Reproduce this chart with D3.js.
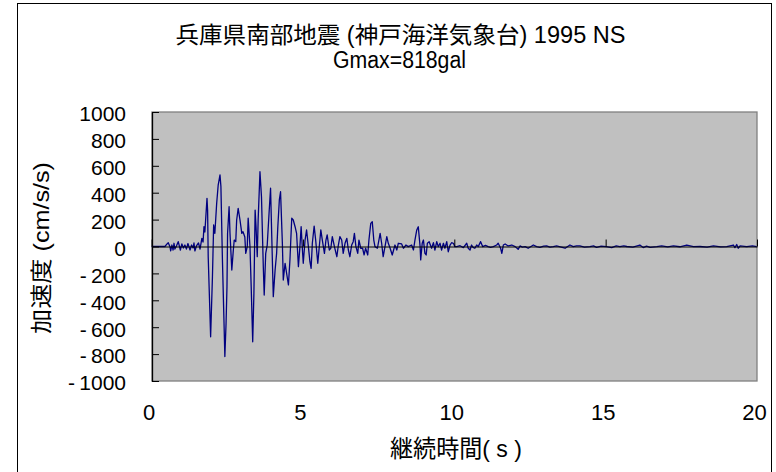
<!DOCTYPE html>
<html><head><meta charset="utf-8">
<script src="https://cdn.jsdelivr.net/npm/d3@7/dist/d3.min.js"></script>
<style>body{margin:0;background:#fff}svg{display:block}</style>
</head><body><svg id="chart" width="776" height="472"></svg>
<script>
// ---- data ----
const titleLines = ["兵庫県南部地震 (神戸海洋気象台) 1995 NS", "Gmax=818gal"];
const yAxisTitle = "加速度 (cm/s/s)";
const xAxisTitle = "継続時間( s )";
const xTickValues = [0, 5, 10, 15, 20];
const yTickValues = [-1000, -800, -600, -400, -200, 0, 200, 400, 600, 800, 1000];
const timeSec = [
  0.00,0.44,0.51,0.55,0.61,0.63,0.67,0.71,0.74,0.77,0.82,0.88,0.95,1.00,1.05,1.10,1.15,1.20,1.27,1.32,
  1.37,1.40,1.43,1.48,1.55,1.60,1.66,1.70,1.73,1.76,
  1.83,1.85,1.87,1.95,2.01,2.05,2.09,2.15,2.20,2.26,2.29,2.34,2.39,2.42,2.46,2.49,2.51,2.56,2.59,2.65,
  2.70,2.73,2.78,2.81,2.86,2.92,2.98,3.02,3.08,3.11,3.16,3.19,3.25,3.29,3.34,3.38,3.42,3.45,3.49,3.52,
  3.58,3.63,3.69,3.72,3.77,3.82,3.88,3.93,3.97,4.02,4.08,4.13,4.17,4.22,4.26,4.32,4.35,4.41,4.46,4.52,
  4.57,4.63,4.68,
  4.74,4.79,4.85,4.90,4.94,4.98,5.01,5.07,5.12,5.18,5.23,5.27,5.31,5.37,5.42,5.49,5.53,5.59,5.64,5.71,
  5.76,5.80,5.87,5.92,5.97,6.04,6.12,6.17,6.22,6.28,6.33,6.39,6.45,6.50,6.55,6.61,6.66,6.70,6.75,6.81,
  6.85,6.91,6.97,7.02,7.07,7.14,7.18,7.24,7.29,7.34,7.38,
  7.46,7.55,7.60,7.65,7.71,7.77,7.82,7.88,7.95,8.04,8.10,8.15,8.26,8.32,8.40,8.48,8.59,8.65,8.70,8.76,
  8.81,8.87,8.89,8.94,8.98,9.03,9.07,9.11,9.17,9.25,9.31,9.36,9.42,9.47,9.53,9.58,9.64,9.69,9.75,9.80,
  9.86,9.91,9.97,10.02,
  10.08,10.19,10.30,10.41,10.46,10.52,10.57,10.62,10.68,10.74,10.79,10.87,10.94,11.03,11.12,11.20,11.29,11.40,11.45,11.53,
  11.57,11.62,11.68,11.78,11.90,12.01,12.11,12.17,12.25,12.34,12.44,12.56,12.61,12.72,12.83,12.95,13.05,13.16,13.27,13.38,
  13.50,13.66,13.82,13.93,14.04,14.15,14.30,14.48,14.60,14.70,14.85,15.03,15.20,15.35,15.47,15.60,15.70,15.90,16.13,16.24,
  16.35,16.47,16.69,16.85,17.05,17.24,17.45,17.68,17.90,18.12,18.35,18.56,18.80,19.00,19.22,19.27,19.33,19.38,19.44,19.66,
  19.85,19.99
];
const accel = [
  0,0,19,28,-4,-33,11,-26,24,-19,4,36,-26,19,-11,11,-19,22,-26,11,
  -11,26,-33,4,26,-19,61,33,147,108,
  358,271,-76,-671,-225,160,98,321,457,532,445,-100,-546,-818,-571,-299,98,296,98,-175,
  -26,48,36,197,284,197,98,110,71,-51,-1,210,-1,-299,-708,-348,271,147,-76,197,
  556,370,-150,-361,-51,11,247,433,73,-373,-175,-51,147,346,407,24,-249,-125,-199,-286,
  -100,210,197,
  147,98,-150,-1,147,-13,-125,48,123,-1,-113,-162,24,152,48,-125,-26,123,48,-51,
  48,86,-26,-13,73,-1,-76,11,73,48,-51,24,61,-26,-76,11,36,98,-1,-51,
  48,-13,-13,-63,-13,-63,48,172,184,48,-1,
  -13,98,24,-76,-1,73,24,-13,-63,11,-26,24,19,-13,11,-1,11,-26,48,123,
  147,-1,-100,24,48,-51,-63,24,36,-13,28,-26,36,-1,24,-26,24,-13,36,-39,
  11,28,24,-1,
  -1,6,-8,24,-13,-26,11,-6,-13,11,-1,36,-1,8,-1,-6,-1,11,24,-13,
  -51,11,19,4,11,-1,-21,4,-4,-1,-13,4,11,-1,-6,3,4,-4,-1,4,
  -3,-13,11,-1,5,4,-4,-1,4,-6,3,-1,-8,4,-1,5,0,-4,11,-8,
  3,-6,-1,5,-3,4,-2,11,-1,0,-4,4,-3,-1,11,-8,15,-13,4,-1,
  5,-1
];

// ---- chart ----
const svg = d3.select("#chart");
const FONT = "'Liberation Sans', Arial, 'Noto Sans CJK JP', sans-serif";
const plot = {left: 152, right: 757, top: 112, bottom: 381};
const x = d3.scaleLinear().domain([0, 20]).range([151.6, 757]);
const y = d3.scaleLinear().domain([-1000, 1000]).range([plot.bottom, plot.top]);

// outer frame
svg.append("rect").attr("x", 17.5).attr("y", 3.5).attr("width", 754).attr("height", 490)
  .attr("fill", "#fff").attr("stroke", "#000").attr("stroke-width", 1);

// plot area
svg.append("rect").attr("x", plot.left).attr("y", plot.top)
  .attr("width", plot.right - plot.left).attr("height", plot.bottom - plot.top)
  .attr("fill", "#C0C0C0").attr("stroke", "#808080").attr("stroke-width", 1.3);

// series
const data = timeSec.map((t, i) => ({t, v: accel[i]}));
svg.append("path").datum(data)
  .attr("fill", "none").attr("stroke", "#000080").attr("stroke-width", 1.3)
  .attr("stroke-linejoin", "round")
  .attr("d", d3.line().x(d => x(d.t)).y(d => y(d.v)));

// y axis
const yAxis = svg.append("g").attr("transform", `translate(${plot.left},0)`)
  .call(d3.axisLeft(y).tickValues(yTickValues).tickSizeInner(-7).tickSizeOuter(0).tickPadding(26)
    .tickFormat(d => d < 0 ? "-\u2009" + Math.abs(d) : String(d)));
yAxis.select(".domain").attr("stroke", "#000").attr("stroke-width", 1.3);
yAxis.selectAll(".tick line").attr("stroke", "#000");
yAxis.selectAll("text").attr("font-family", FONT).attr("font-size", 21).attr("fill", "#000")
  .attr("dy", "0.42em");

// x axis at zero line (ticks upward)
const xAxis = svg.append("g").attr("transform", `translate(0,${y(0)})`)
  .call(d3.axisBottom(x).tickValues(xTickValues).tickSizeInner(-7).tickSizeOuter(0).tickFormat(""));
xAxis.select(".domain").attr("stroke", "#000").attr("stroke-width", 1);
xAxis.selectAll(".tick line").attr("stroke", "#000");

// x tick labels at the bottom
const xLab = svg.append("g").attr("transform", `translate(-3,${plot.bottom})`)
  .call(d3.axisBottom(x).tickValues(xTickValues).tickSize(0).tickPadding(22).tickFormat(d3.format("d")));
xLab.select(".domain").remove();
xLab.selectAll("text").attr("font-family", FONT).attr("font-size", 22).attr("fill", "#000")
  .attr("dy", "0.75em");

// titles
svg.append("text").attr("x", 400.5).attr("y", 43).attr("text-anchor", "middle")
  .attr("font-family", FONT).attr("font-size", 23).attr("textLength", 450).attr("lengthAdjust", "spacingAndGlyphs")
  .text(titleLines[0]);
svg.append("text").attr("x", 399.5).attr("y", 68).attr("text-anchor", "middle")
  .attr("font-family", FONT).attr("font-size", 23).attr("textLength", 133).attr("lengthAdjust", "spacingAndGlyphs")
  .text(titleLines[1]);
svg.append("text").attr("x", 456).attr("y", 457).attr("text-anchor", "middle")
  .attr("font-family", FONT).attr("font-size", 24).attr("textLength", 132).attr("lengthAdjust", "spacingAndGlyphs")
  .text(xAxisTitle);
svg.append("text").attr("transform", "translate(49,248) rotate(-90)").attr("text-anchor", "middle")
  .attr("font-family", FONT).attr("font-size", 22).attr("textLength", 172).attr("lengthAdjust", "spacingAndGlyphs")
  .text(yAxisTitle);
</script></body></html>
